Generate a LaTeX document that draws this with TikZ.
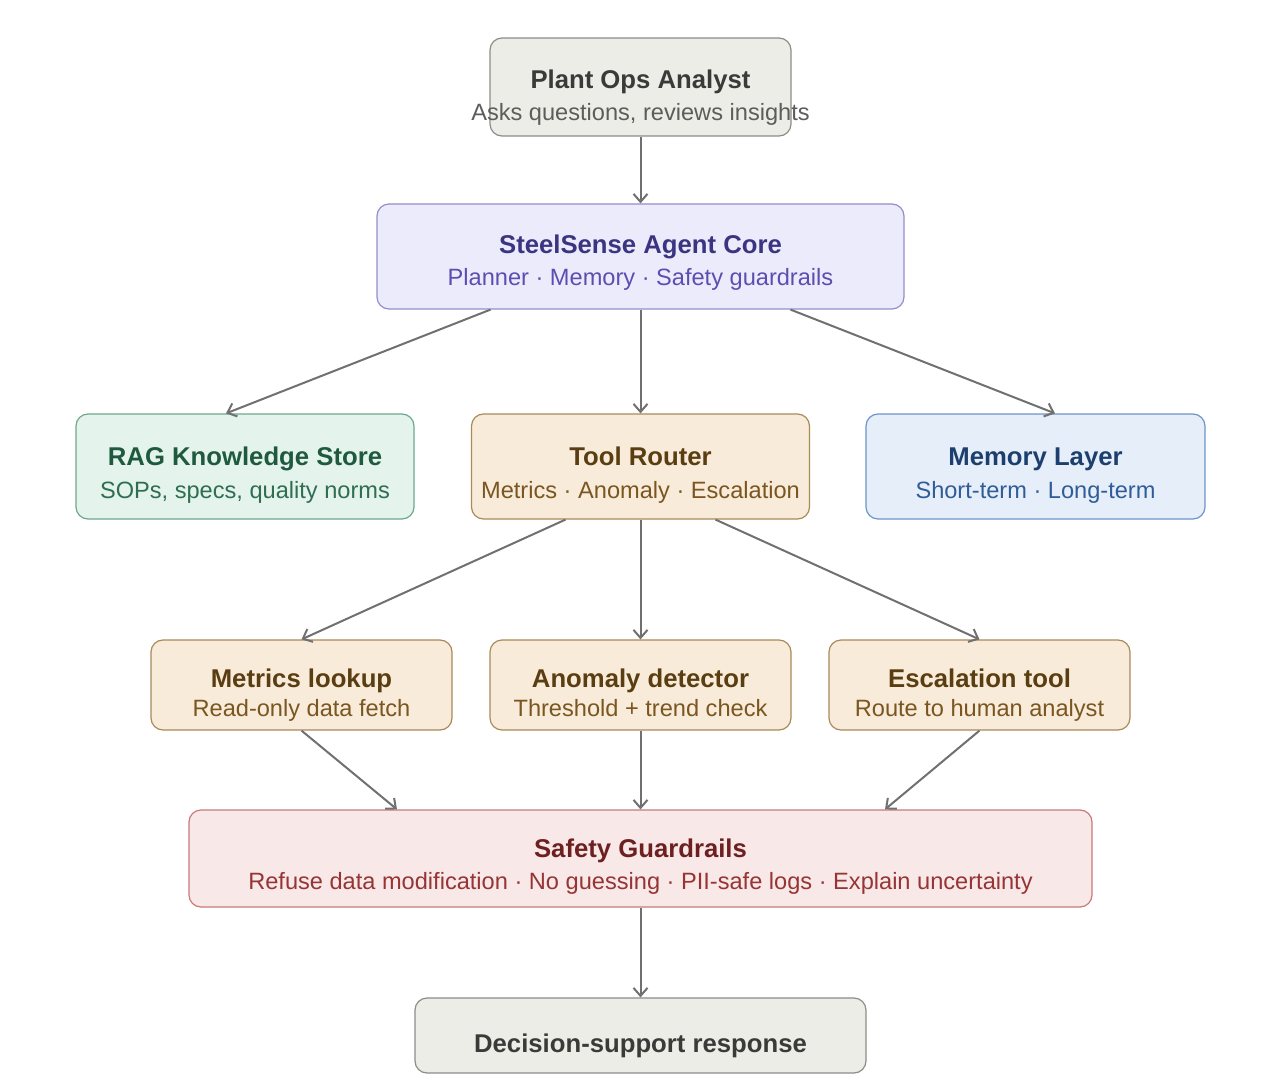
\documentclass[tikz,border=0pt]{standalone}
\usepackage{fontspec}
\setmainfont{Liberation Sans}
\usetikzlibrary{arrows.meta,calc}
\definecolor{grayfill}{HTML}{EDEDE8}
\definecolor{grayline}{HTML}{8C8C88}
\definecolor{graytitle}{HTML}{3A3A38}
\definecolor{graysub}{HTML}{5C5C5A}
\definecolor{corefill}{HTML}{ECEBFB}
\definecolor{coreline}{HTML}{958DCB}
\definecolor{coretitle}{HTML}{3B3480}
\definecolor{coresub}{HTML}{5A4FB0}
\definecolor{ragfill}{HTML}{E4F3EC}
\definecolor{ragline}{HTML}{6EA88C}
\definecolor{ragtitle}{HTML}{1F5A3E}
\definecolor{ragsub}{HTML}{2F6E50}
\definecolor{toolfill}{HTML}{F8EBD9}
\definecolor{toolline}{HTML}{A98A5A}
\definecolor{tooltitle}{HTML}{5A3E12}
\definecolor{toolsub}{HTML}{7A5620}
\definecolor{memfill}{HTML}{E6EEF9}
\definecolor{memline}{HTML}{6E93C8}
\definecolor{memtitle}{HTML}{1D3F6E}
\definecolor{memsub}{HTML}{305C98}
\definecolor{safefill}{HTML}{F8E8E8}
\definecolor{safeline}{HTML}{C77A7A}
\definecolor{safetitle}{HTML}{6E2020}
\definecolor{safesub}{HTML}{973434}
\definecolor{arrowc}{HTML}{707070}
\tikzset{
  box/.style={draw, rounded corners=12pt, line width=1.2pt, inner sep=0pt},
  ttl/.style={anchor=base, font=\fontsize{25.7}{30}\selectfont\bfseries, inner sep=0pt},
  sub/.style={anchor=base, font=\fontsize{23.6}{28}\selectfont, inner sep=0pt},
  conn/.style={draw=arrowc, line width=2pt, -{Straight Barb[length=8pt,width=14pt,line width=2pt]}},
}
\begin{document}
\begin{tikzpicture}[x=1pt,y=-1pt]
\useasboundingbox (0,0) rectangle (1280,1091);
% boxes
\node[box, fill=grayfill, draw=grayline, minimum width=301pt, minimum height=98pt] (analyst) at (640.5,87) {};
\node[box, fill=corefill, draw=coreline, minimum width=527pt, minimum height=105pt] (core) at (640.5,256.5) {};
\node[box, fill=ragfill, draw=ragline, minimum width=338pt, minimum height=105pt] (rag) at (245,466.5) {};
\node[box, fill=toolfill, draw=toolline, minimum width=338pt, minimum height=105pt] (router) at (640.5,466.5) {};
\node[box, fill=memfill, draw=memline, minimum width=339pt, minimum height=105pt] (mem) at (1035.5,466.5) {};
\node[box, fill=toolfill, draw=toolline, minimum width=301pt, minimum height=90pt] (metrics) at (301.5,685) {};
\node[box, fill=toolfill, draw=toolline, minimum width=301pt, minimum height=90pt] (anomaly) at (640.5,685) {};
\node[box, fill=toolfill, draw=toolline, minimum width=301pt, minimum height=90pt] (escal) at (979.5,685) {};
\node[box, fill=safefill, draw=safeline, minimum width=903pt, minimum height=97pt] (safety) at (640.5,858.5) {};
\node[box, fill=grayfill, draw=grayline, minimum width=451pt, minimum height=75pt] (decision) at (640.5,1035.5) {};
% texts
\node[ttl, text=graytitle] (t1) at (640.5,89) {Plant Ops Analyst};
\node[sub, text=graysub] (s1) at (640.5,121) {Asks questions, reviews insights};
\node[ttl, text=coretitle] (t2) at (640.5,254) {SteelSense Agent Core};
\node[sub, text=coresub] (s2) at (640.5,286) {Planner · Memory · Safety guardrails};
\node[ttl, text=ragtitle] (t3) at (245,465) {RAG Knowledge Store};
\node[sub, text=ragsub] (s3) at (245,498) {SOPs, specs, quality norms};
\node[ttl, text=tooltitle] (t4) at (640.5,465) {Tool Router};
\node[sub, text=toolsub] (s4) at (640.5,498) {Metrics · Anomaly · Escalation};
\node[ttl, text=memtitle] (t5) at (1035.5,465) {Memory Layer};
\node[sub, text=memsub] (s5) at (1035.5,498) {Short-term · Long-term};
\node[ttl, text=tooltitle] (t6) at (301.5,687) {Metrics lookup};
\node[sub, text=toolsub] (s6) at (301.5,716) {Read-only data fetch};
\node[ttl, text=tooltitle] (t7) at (640.5,687) {Anomaly detector};
\node[sub, text=toolsub] (s7) at (640.5,716) {Threshold + trend check};
\node[ttl, text=tooltitle] (t8) at (979.5,687) {Escalation tool};
\node[sub, text=toolsub] (s8) at (979.5,716) {Route to human analyst};
\node[ttl, text=safetitle] (t9) at (640.5,857) {Safety Guardrails};
\node[sub, text=safesub] (s9) at (640.5,889) {Refuse data modification · No guessing · PII-safe logs · Explain uncertainty};
\node[ttl, text=graytitle] (t10) at (640.5,1052) {Decision-support response};
% connectors
\draw[conn] (analyst.south) -- (core.north);
\draw[conn] ($(core.south)+(-150,0)$) -- ($(rag.north)+(-19,0)$);
\draw[conn] (core.south) -- (router.north);
\draw[conn] ($(core.south)+(150,0)$) -- ($(mem.north)+(19.5,0)$);
\draw[conn] ($(router.south)+(-75,0)$) -- (metrics.north);
\draw[conn] (router.south) -- (anomaly.north);
\draw[conn] ($(router.south)+(75,0)$) -- (escal.north);
\draw[conn] (metrics.south) -- ($(safety.north)+(-243.5,0)$);
\draw[conn] (anomaly.south) -- (safety.north);
\draw[conn] (escal.south) -- ($(safety.north)+(244.5,0)$);
\draw[conn] (safety.south) -- (decision.north);
\end{tikzpicture}
\end{document}
